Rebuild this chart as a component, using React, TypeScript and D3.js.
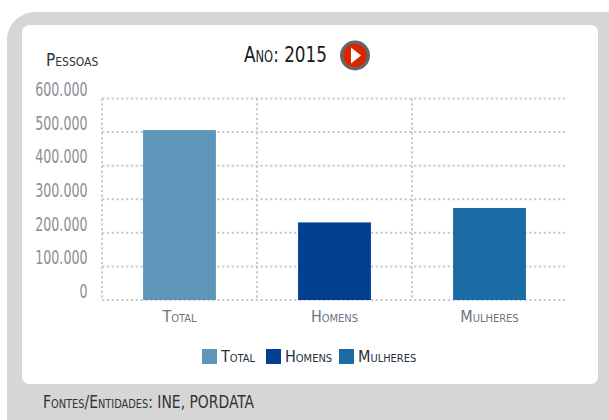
import React from 'react';
import * as d3 from 'd3';

const categories = ['Total', 'Homens', 'Mulheres'];
const values = [506000, 231000, 274000];
const colors = ['#5e96ba', '#013f91', '#1b6ba4'];
const yTicks = [0, 100000, 200000, 300000, 400000, 500000, 600000];
const tickLabels = ['0', '100.000', '200.000', '300.000', '400.000', '500.000', '600.000'];
const yearTitle = 'Ano: 2015';
const yTitle = 'Pessoas';
const source = 'Fontes/Entidades: INE, PORDATA';

const FONT = '"Liberation Sans Narrow", "DejaVu Sans Condensed", sans-serif';

export default function App() {
  const x = d3.scaleBand<string>().domain(categories).range([102, 567]).padding(0);
  const y = d3.scaleLinear().domain([0, 600000]).range([300, 98.5]);
  const barW = x.bandwidth() * 0.47;
  const legendX = [202, 266, 339];
  const gridStyle = { stroke: '#cccccc', strokeWidth: 2, strokeDasharray: '2.4 2.4', fill: 'none' };
  const sc = { fontVariant: 'small-caps' as const };
  return (
    <svg width={609} height={420} style={{ position: 'absolute', left: 0, top: 0, fontFamily: FONT }}>
      <rect width={609} height={420} fill="#fff" />
      <rect x={7} y={12} width={640} height={440} rx={28} fill="#d6d6d6" />
      <rect x={22} y={25} width={576} height={359} rx={7} fill="#fff" />

      {yTicks.map((t) => (
        <line key={t} x1={102} x2={567} y1={y(t)} y2={y(t)} {...gridStyle} />
      ))}
      {categories.map((c) => (
        <line key={c} x1={x(c)!} x2={x(c)!} y1={98.5} y2={300} {...gridStyle} />
      ))}

      {categories.map((c, i) => (
        <rect
          key={c}
          x={x(c)! + (x.bandwidth() - barW) / 2}
          y={y(values[i])}
          width={barW}
          height={300 - y(values[i])}
          fill={colors[i]}
        />
      ))}

      {yTicks.map((t, i) => (
        <text
          key={t}
          transform={`translate(87.5,${y(t) - 9}) scale(0.74,1)`}
          textAnchor="end"
          dominantBaseline="central"
          fontSize={19}
          fill="#8a8f96"
        >
          {tickLabels[i]}
        </text>
      ))}
      {categories.map((c) => (
        <text key={c} x={x(c)! + x.bandwidth() / 2} y={322} textAnchor="middle" fontSize={16} fill="#6d7480" style={sc}>
          {c}
        </text>
      ))}

      <text x={46} y={66} fontSize={17} fill="#2c3440" style={sc}>{yTitle}</text>
      <text x={244} y={62} fontSize={22} fill="#1a1a1a" style={sc} textLength={83} lengthAdjust="spacingAndGlyphs">{yearTitle}</text>

      <circle cx={355} cy={55.5} r={15} fill="#666" />
      <circle cx={355} cy={55.5} r={11.5} fill="#dc2500" />
      <path d="M351,47.5 L361,55.5 L351,63.5 Z" fill="#fff" />

      {categories.map((c, i) => (
        <g key={c}>
          <rect x={legendX[i]} y={349} width={15} height={15} fill={colors[i]} />
          <text x={legendX[i] + 19} y={362} fontSize={16} fill="#26303c" style={sc}>{c}</text>
        </g>
      ))}

      <text x={43} y={408} fontSize={17} fill="#333" style={sc} textLength={211} lengthAdjust="spacingAndGlyphs">{source}</text>
    </svg>
  );
}
